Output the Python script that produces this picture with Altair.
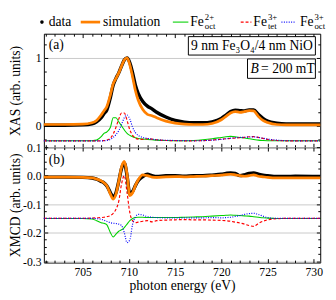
import altair as alt
import pandas as pd

# ---------------- data ----------------
energy = [700.8, 703, 705, 706, 706.5, 707, 707.3, 707.6, 708, 708.3, 708.6, 708.9,
          709.2, 709.5, 709.8, 710.1, 710.4, 710.7, 711, 711.5, 712, 712.5, 713, 714,
          715, 716, 717, 718, 719, 720, 720.5, 721, 721.5, 722, 722.5, 723, 723.5, 724,
          724.5, 725, 726, 727, 728, 730.7]

xas_data = [0.01, 0.01, 0.015, 0.03, 0.06, 0.12, 0.18, 0.23, 0.42, 0.6, 0.7, 0.78,
            0.88, 0.97, 1.0, 0.93, 0.78, 0.6, 0.48, 0.36, 0.29, 0.25, 0.2, 0.13,
            0.08, 0.055, 0.045, 0.045, 0.06, 0.11, 0.16, 0.21, 0.23, 0.225, 0.22, 0.235, 0.235, 0.17,
            0.11, 0.07, 0.04, 0.03, 0.03, 0.03]
xas_sim = [0.02, 0.02, 0.025, 0.045, 0.08, 0.16, 0.22, 0.28, 0.46, 0.62, 0.7, 0.78,
           0.88, 0.97, 1.0, 0.9, 0.72, 0.52, 0.38, 0.24, 0.17, 0.15, 0.12, 0.07,
           0.04, 0.025, 0.02, 0.02, 0.035, 0.09, 0.14, 0.19, 0.21, 0.2, 0.21, 0.225, 0.22, 0.14,
           0.08, 0.05, 0.02, 0.015, 0.015, 0.015]
xas_fe2_oct = [-0.22, -0.22, -0.22, -0.218, -0.21, -0.16, -0.11, -0.09, -0.02, 0.12, 0.12, 0.06,
               0.0, -0.06, -0.11, -0.14, -0.16, -0.175, -0.185, -0.195, -0.2, -0.205, -0.21, -0.215,
               -0.218, -0.22, -0.215, -0.205, -0.19, -0.17, -0.16, -0.155, -0.16, -0.17, -0.18, -0.19, -0.2, -0.21,
               -0.215, -0.218, -0.22, -0.22, -0.22, -0.22]
xas_fe3_tet = [-0.22, -0.22, -0.22, -0.22, -0.22, -0.22, -0.218, -0.21, -0.18, -0.12, -0.02, 0.1,
               0.19, 0.19, 0.08, -0.06, -0.14, -0.18, -0.195, -0.2, -0.19, -0.195, -0.205, -0.215,
               -0.218, -0.22, -0.22, -0.218, -0.21, -0.195, -0.19, -0.185, -0.18, -0.175, -0.17, -0.16, -0.158, -0.17,
               -0.185, -0.2, -0.215, -0.22, -0.22, -0.22]
xas_fe3_oct = [-0.22, -0.22, -0.22, -0.22, -0.22, -0.22, -0.22, -0.215, -0.2, -0.17, -0.13, -0.07,
               0.02, 0.12, 0.16, 0.1, -0.02, -0.1, -0.14, -0.17, -0.185, -0.195, -0.205, -0.212,
               -0.216, -0.218, -0.22, -0.218, -0.21, -0.2, -0.19, -0.182, -0.175, -0.17, -0.168, -0.165, -0.163, -0.17,
               -0.182, -0.195, -0.21, -0.218, -0.22, -0.22]

xmcd_data = [-0.005, -0.005, -0.006, -0.008, -0.012, -0.02, -0.025, -0.035, -0.06, -0.075, -0.06, -0.02,
             0.025, 0.045, 0.0, -0.065, -0.055, -0.035, -0.018, -0.003, 0.005, 0.0, -0.003, 0.0,
             0.0, -0.002, 0.0, 0.0, 0.002, 0.005, 0.008, 0.01, 0.008, 0.0, 0.003, 0.008, 0.01, 0.005,
             0.002, 0.0, -0.003, -0.003, -0.002, -0.003]
xmcd_sim = [-0.005, -0.005, -0.006, -0.008, -0.012, -0.018, -0.025, -0.035, -0.065, -0.082, -0.065, -0.02,
            0.03, 0.05, 0.005, -0.07, -0.06, -0.035, -0.015, 0.003, 0.0, -0.005, -0.006, -0.004,
            -0.003, -0.004, -0.003, -0.002, 0.0, 0.002, 0.004, 0.005, 0.003, 0.0, -0.002, 0.0, 0.003, -0.002,
            -0.004, -0.006, -0.008, -0.008, -0.008, -0.008]
xmcd_fe2_oct = [-0.15, -0.15, -0.15, -0.152, -0.158, -0.165, -0.167, -0.172, -0.2, -0.215, -0.205, -0.195,
                -0.19, -0.182, -0.17, -0.158, -0.15, -0.147, -0.146, -0.146, -0.147, -0.147, -0.147, -0.147,
                -0.147, -0.146, -0.145, -0.144, -0.142, -0.14, -0.139, -0.138, -0.139, -0.14, -0.141, -0.142, -0.144, -0.146,
                -0.148, -0.149, -0.15, -0.15, -0.15, -0.15]
xmcd_fe3_tet = [-0.15, -0.15, -0.15, -0.149, -0.148, -0.147, -0.146, -0.144, -0.14, -0.132, -0.118, -0.09,
                -0.03, 0.0, -0.06, -0.13, -0.158, -0.165, -0.163, -0.16, -0.158, -0.162, -0.158, -0.156,
                -0.155, -0.154, -0.155, -0.155, -0.156, -0.157, -0.158, -0.16, -0.163, -0.166, -0.17, -0.175, -0.178, -0.168,
                -0.16, -0.155, -0.151, -0.15, -0.15, -0.15]
xmcd_fe3_oct = [-0.15, -0.15, -0.15, -0.15, -0.151, -0.153, -0.156, -0.16, -0.165, -0.167, -0.168, -0.17,
                -0.175, -0.2, -0.235, -0.225, -0.17, -0.145, -0.136, -0.138, -0.144, -0.146, -0.147, -0.148,
                -0.148, -0.148, -0.148, -0.148, -0.147, -0.148, -0.147, -0.146, -0.143, -0.14, -0.136, -0.133, -0.132, -0.136,
                -0.142, -0.147, -0.15, -0.15, -0.15, -0.15]

x_major = [705, 710, 715, 720, 725, 730]
x_minor = [701, 702, 703, 704, 706, 707, 708, 709, 711, 712, 713, 714,
           716, 717, 718, 719, 721, 722, 723, 724, 726, 727, 728, 729]
xas_y_major = [0, 1]
xas_y_minor = [-0.2, 0.2, 0.4, 0.6, 0.8, 1.2]
xmcd_y_major = [0.1, 0.0, -0.1, -0.2, -0.3]
xmcd_y_minor = [0.075, 0.05, 0.025, -0.025, -0.05, -0.075, -0.125, -0.15, -0.175,
                -0.225, -0.25, -0.275]

legend_labels = ["data", "simulation", "Fe", "Fe", "Fe"]
legend_sup = ["2+", "3+", "3+"]
legend_sub = ["oct", "tet", "oct"]
sample_text = "9 nm Fe₃O₄/4 nm NiO"
field_symbol = "B"
field_text = "= 200 mT"
panel_labels = ["(a)", "(b)"]
x_title = "photon energy (eV)"
y_titles = ["XAS (arb. units)", "XMCD (arb. units)"]

# ---------------- styling ----------------
FONT = "Liberation Serif, Times New Roman, serif"
W = 285
H1 = 117
H2 = 119
XDOM = [700.8, 730.7]
COL_DATA = "black"
COL_SIM = "#ff8000"
COL_G = "#00d000"
COL_R = "#ff0000"
COL_B = "#0000ff"
MAJ = 4
MIN = 2.5


def tick_axis(orient, offset, values, size):
    return alt.Axis(orient=orient, offset=offset, values=values, tickSize=size,
                    ticks=True, labels=False, domain=False, grid=False, title=None,
                    tickColor="black", tickWidth=1)


def text_layer(t, x, y, size=14, style="normal", align="left"):
    return alt.Chart(pd.DataFrame({"t": [t]})).mark_text(
        font=FONT, fontSize=size, fontStyle=style, align=align, baseline="middle",
        color="black").encode(x=alt.value(x), y=alt.value(y), text="t:N")


def rule_layer(x1, x2, y, color, width, dash=None):
    kw = dict(color=color, strokeWidth=width)
    if dash:
        kw["strokeDash"] = dash
    return alt.Chart(pd.DataFrame({"k": [0]})).mark_rule(**kw).encode(
        x=alt.value(x1), x2=alt.value(x2), y=alt.value(y))


def rect_layer(x1, x2, y1, y2):
    return alt.Chart(pd.DataFrame({"k": [0]})).mark_rect(
        fill="white", stroke="black", strokeWidth=1).encode(
        x=alt.value(x1), x2=alt.value(x2), y=alt.value(y1), y2=alt.value(y2))


def panel(series, ydom, H, y_major, y_minor, ytitle, label_expr, show_x_labels):
    df = pd.DataFrame({"energy": energy, "d": series[0], "s": series[1],
                       "g": series[2], "r": series[3], "b": series[4]})
    xsc = alt.Scale(domain=XDOM, nice=False, zero=False)
    ysc = alt.Scale(domain=ydom, nice=False, zero=False)
    base = alt.Chart(df)

    y_main = alt.Axis(orient="left", values=y_major, ticks=False, domain=False,
                      grid=True, gridColor="#c8c8c8", gridWidth=1,
                      labelExpr=label_expr, labelFont=FONT, labelFontSize=12,
                      labelColor="black", labelPadding=3, minExtent=21, maxExtent=21,
                      title=ytitle, titleFont=FONT, titleFontSize=14,
                      titleFontWeight="normal", titleColor="black", titlePadding=1)
    if show_x_labels:
        x_lab = alt.Axis(orient="bottom", values=x_major, ticks=False, domain=False,
                         grid=False, labelFont=FONT, labelFontSize=12, labelColor="black",
                         labelPadding=4, title=x_title, titleFont=FONT, titleFontSize=14,
                         titleFontWeight="normal", titleColor="black", titlePadding=2)
    else:
        x_lab = None

    def line(col, color, width, xaxis, yaxis, dash=None):
        kw = dict(color=color, strokeWidth=width, interpolate="monotone")
        if dash:
            kw["strokeDash"] = dash
        return base.mark_line(**kw).encode(
            x=alt.X("energy:Q", scale=xsc, axis=xaxis),
            y=alt.Y(f"{col}:Q", scale=ysc, axis=yaxis))

    layers = [
        line("g", COL_G, 1.1, tick_axis("bottom", -H, x_minor, MIN),
             tick_axis("right", -W, y_major, MAJ)),
        line("r", COL_R, 1.2, tick_axis("bottom", -H, x_major, MAJ),
             tick_axis("left", -W, y_minor, MIN), dash=[3, 2]),
        line("b", COL_B, 1.2, x_lab, tick_axis("left", -W, y_major, MAJ), dash=[1, 1.5]),
        line("d", COL_DATA, 3.5, tick_axis("top", -H, x_minor, MIN), y_main),
        line("s", COL_SIM, 2.8, tick_axis("top", -H, x_major, MAJ),
             tick_axis("right", -W, y_minor, MIN)),
    ]
    return layers


top_layers = panel([xas_data, xas_sim, xas_fe2_oct, xas_fe3_tet, xas_fe3_oct],
                   [-0.314, 1.357], H1, xas_y_major, xas_y_minor, y_titles[0],
                   "format(datum.value, 'd')", False)
bot_layers = panel([xmcd_data, xmcd_sim, xmcd_fe2_oct, xmcd_fe3_tet, xmcd_fe3_oct],
                   [-0.305, 0.1], H2, xmcd_y_major, xmcd_y_minor, y_titles[1],
                   "datum.value < 0 ? '-' + format(-datum.value, '.1f') : format(datum.value, '.1f')",
                   True)

# legend (drawn above the top panel)
LY = -12
SUP_DY = -5
SUB_DY = 4.5
SS = 9
legend = [
    alt.Chart(pd.DataFrame({"k": [0]})).mark_circle(color="black", size=14, opacity=1).encode(
        x=alt.value(-2), y=alt.value(LY)),
    text_layer(legend_labels[0], 5, LY),
    rule_layer(38, 58, LY, COL_SIM, 2.8),
    text_layer(legend_labels[1], 61, LY),
    rule_layer(133, 149, LY, COL_G, 1.1),
    text_layer(legend_labels[2], 151, LY),
    text_layer(legend_sup[0], 166, LY + SUP_DY, size=SS),
    text_layer(legend_sub[0], 166, LY + SUB_DY, size=SS),
    rule_layer(203, 214, LY, COL_R, 1.2, dash=[3, 2]),
    text_layer(legend_labels[3], 216, LY),
    text_layer(legend_sup[1], 231, LY + SUP_DY, size=SS),
    text_layer(legend_sub[1], 231, LY + SUB_DY, size=SS),
    rule_layer(245, 260, LY, COL_B, 1.2, dash=[1, 1.5]),
    text_layer(legend_labels[4], 264, LY),
    text_layer(legend_sup[2], 279, LY + SUP_DY, size=SS),
    text_layer(legend_sub[2], 279, LY + SUB_DY, size=SS),
]

annot_top = [
    rect_layer(149, 280, 3, 22),
    text_layer(sample_text, 214.5, 12.5, align="center"),
    rect_layer(210, 280, 26, 46),
    text_layer(field_symbol, 213, 36, style="italic"),
    text_layer(field_text, 224, 36),
    text_layer(panel_labels[0], 5, 12),
]
annot_bot = [text_layer(panel_labels[1], 5, 13)]

top = alt.layer(*top_layers, *annot_top, *legend).resolve_axis(
    x="independent", y="independent").properties(width=W, height=H1)
bottom = alt.layer(*bot_layers, *annot_bot).resolve_axis(
    x="independent", y="independent").properties(width=W, height=H2)

chart = alt.vconcat(top, bottom, spacing=0, bounds="flush").properties(
    padding={"left": 0, "right": 0, "top": 0, "bottom": 0}
).configure_view(stroke="black", strokeWidth=1)

chart.save("out.html", embed_options={"renderer": "svg", "actions": False})
